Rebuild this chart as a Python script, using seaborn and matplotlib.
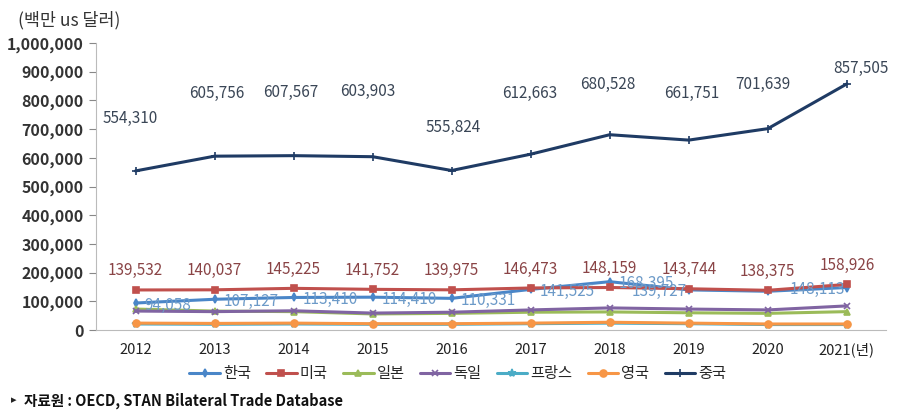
import numpy as np
import pandas as pd
import matplotlib
matplotlib.use("Agg")
import matplotlib.pyplot as plt
import seaborn as sns

# data (백만 US 달러)
years = [2012, 2013, 2014, 2015, 2016, 2017, 2018, 2019, 2020, 2021]
year_labels = ["2012", "2013", "2014", "2015", "2016", "2017", "2018", "2019", "2020", "2021(년)"]
korea = [94058, 107127, 113410, 114410, 110331, 141525, 168395, 139727, 135000, 148113]
usa = [139532, 140037, 145225, 141752, 139975, 146473, 148159, 143744, 138375, 158926]
japan = [73000, 66000, 64000, 56000, 58000, 62000, 63000, 60000, 58000, 64000]
germany = [66000, 64000, 67000, 59000, 62000, 70000, 77000, 73000, 70000, 84000]
france = [21000, 20000, 21000, 20000, 20000, 22000, 24000, 22000, 19000, 19000]
uk = [24000, 23000, 24000, 22000, 22000, 24000, 27000, 24000, 21000, 21000]
china = [554310, 605756, 607567, 603903, 555824, 612663, 680528, 661751, 701639, 857505]

# Korea labels shown in the chart (2020 has none)
korea_label_years = [2012, 2013, 2014, 2015, 2016, 2017, 2018, 2019, 2021]

# label placement (pixels above / beside the point)
china_dy = [52, 63, 63, 65, 43, 61, 50, 47, 44, 15]
china_dx = [-5, 2, -3, -5, 2, -1, -2, 3, -5, 14]

sns.set_style("white")
plt.rcParams['font.family'] = ['Noto Sans CJK KR', 'DejaVu Sans']

series = [
    ("한국", korea, "#4A86C8", "d", 4),
    ("미국", usa, "#C0504D", "s", 5),
    ("일본", japan, "#9BBB59", "^", 5),
    ("독일", germany, "#8064A2", "x", 5),
    ("프랑스", france, "#4BACC6", "*", 6),
    ("영국", uk, "#F79646", "o", 5),
    ("중국", china, "#1F3B64", "+", 6),
]

fig = plt.figure(figsize=(9.1, 4.15), dpi=100)
ax = fig.add_axes([0.1055, 0.2048, 0.8685, 0.6915])

pos = np.arange(len(years))
for name, vals, color, marker, ms in series:
    sns.lineplot(x=pos, y=vals, ax=ax, color=color, marker=marker, markersize=ms,
                 markeredgecolor=color, markeredgewidth=1.2, linewidth=2.2, label=name)

# data labels
for i, v in enumerate(china):
    ax.annotate(f"{v:,}", (pos[i], v), xytext=(china_dx[i], china_dy[i]),
                textcoords="offset pixels", ha="center", va="center",
                fontsize=11, color="#3A4656")
for i, v in enumerate(usa):
    ax.annotate(f"{v:,}", (pos[i], v), xytext=(0, 19), textcoords="offset pixels",
                ha="center", va="center", fontsize=11, color="#8A4446")
for y in korea_label_years:
    i = years.index(y)
    v = korea[i]
    if y in (2019, 2021):
        ax.annotate(f"{v:,}", (pos[i], v), xytext=(-2, -2), textcoords="offset pixels",
                    ha="right", va="center", fontsize=11, color="#6C9AC8")
    else:
        ax.annotate(f"{v:,}", (pos[i], v), xytext=(9, -2), textcoords="offset pixels",
                    ha="left", va="center", fontsize=11, color="#6C9AC8")

ax.set_xlim(-0.5, len(years) - 0.5)
ax.set_ylim(0, 1000000)
ax.set_yticks(np.arange(0, 1000001, 100000))
ax.set_yticklabels([f"{t:,}" for t in range(0, 1000001, 100000)], fontsize=11.5,
                   color="#333333", fontweight="bold")
ax.set_xticks(pos)
ax.set_xticklabels(year_labels, fontsize=10.5, color="#222222",
                   family=['Liberation Sans Narrow', 'Noto Sans CJK KR'])
ax.set_xticks(np.arange(-0.5, len(years), 1.0), minor=True)
ax.tick_params(axis="x", which="major", length=0, pad=9)
ax.tick_params(axis="x", which="minor", length=5, color="#888888", direction="out")
ax.tick_params(axis="y", length=5, color="#888888", direction="out", pad=4, left=True)

for s in ["top", "right"]:
    ax.spines[s].set_visible(False)
ax.spines["left"].set_color("#BBBBBB")
ax.spines["bottom"].set_color("#BBBBBB")
ax.set_xlabel("")
ax.set_ylabel("")

leg = ax.legend(loc="center", bbox_to_anchor=(0.503, 0.099), bbox_transform=fig.transFigure,
                ncol=7, frameon=False, fontsize=11, handlelength=2.0, handletextpad=0.2,
                columnspacing=1.0)

fig.text(0.020, 0.952, "(백만 us 달러)", fontsize=12.5, color="#333333", ha="left", va="center")
fig.text(0.012, 0.035, "▸", fontsize=8, color="#222222", ha="left", va="center",
         family=['DejaVu Sans'])
fig.text(0.026, 0.035, "자료원 : OECD, STAN Bilateral Trade Database", fontsize=10.5,
         color="#111111", ha="left", va="center", fontweight="bold",
         family=['Liberation Sans Narrow', 'Noto Sans CJK KR'])

fig.savefig("out.png", dpi=100)
